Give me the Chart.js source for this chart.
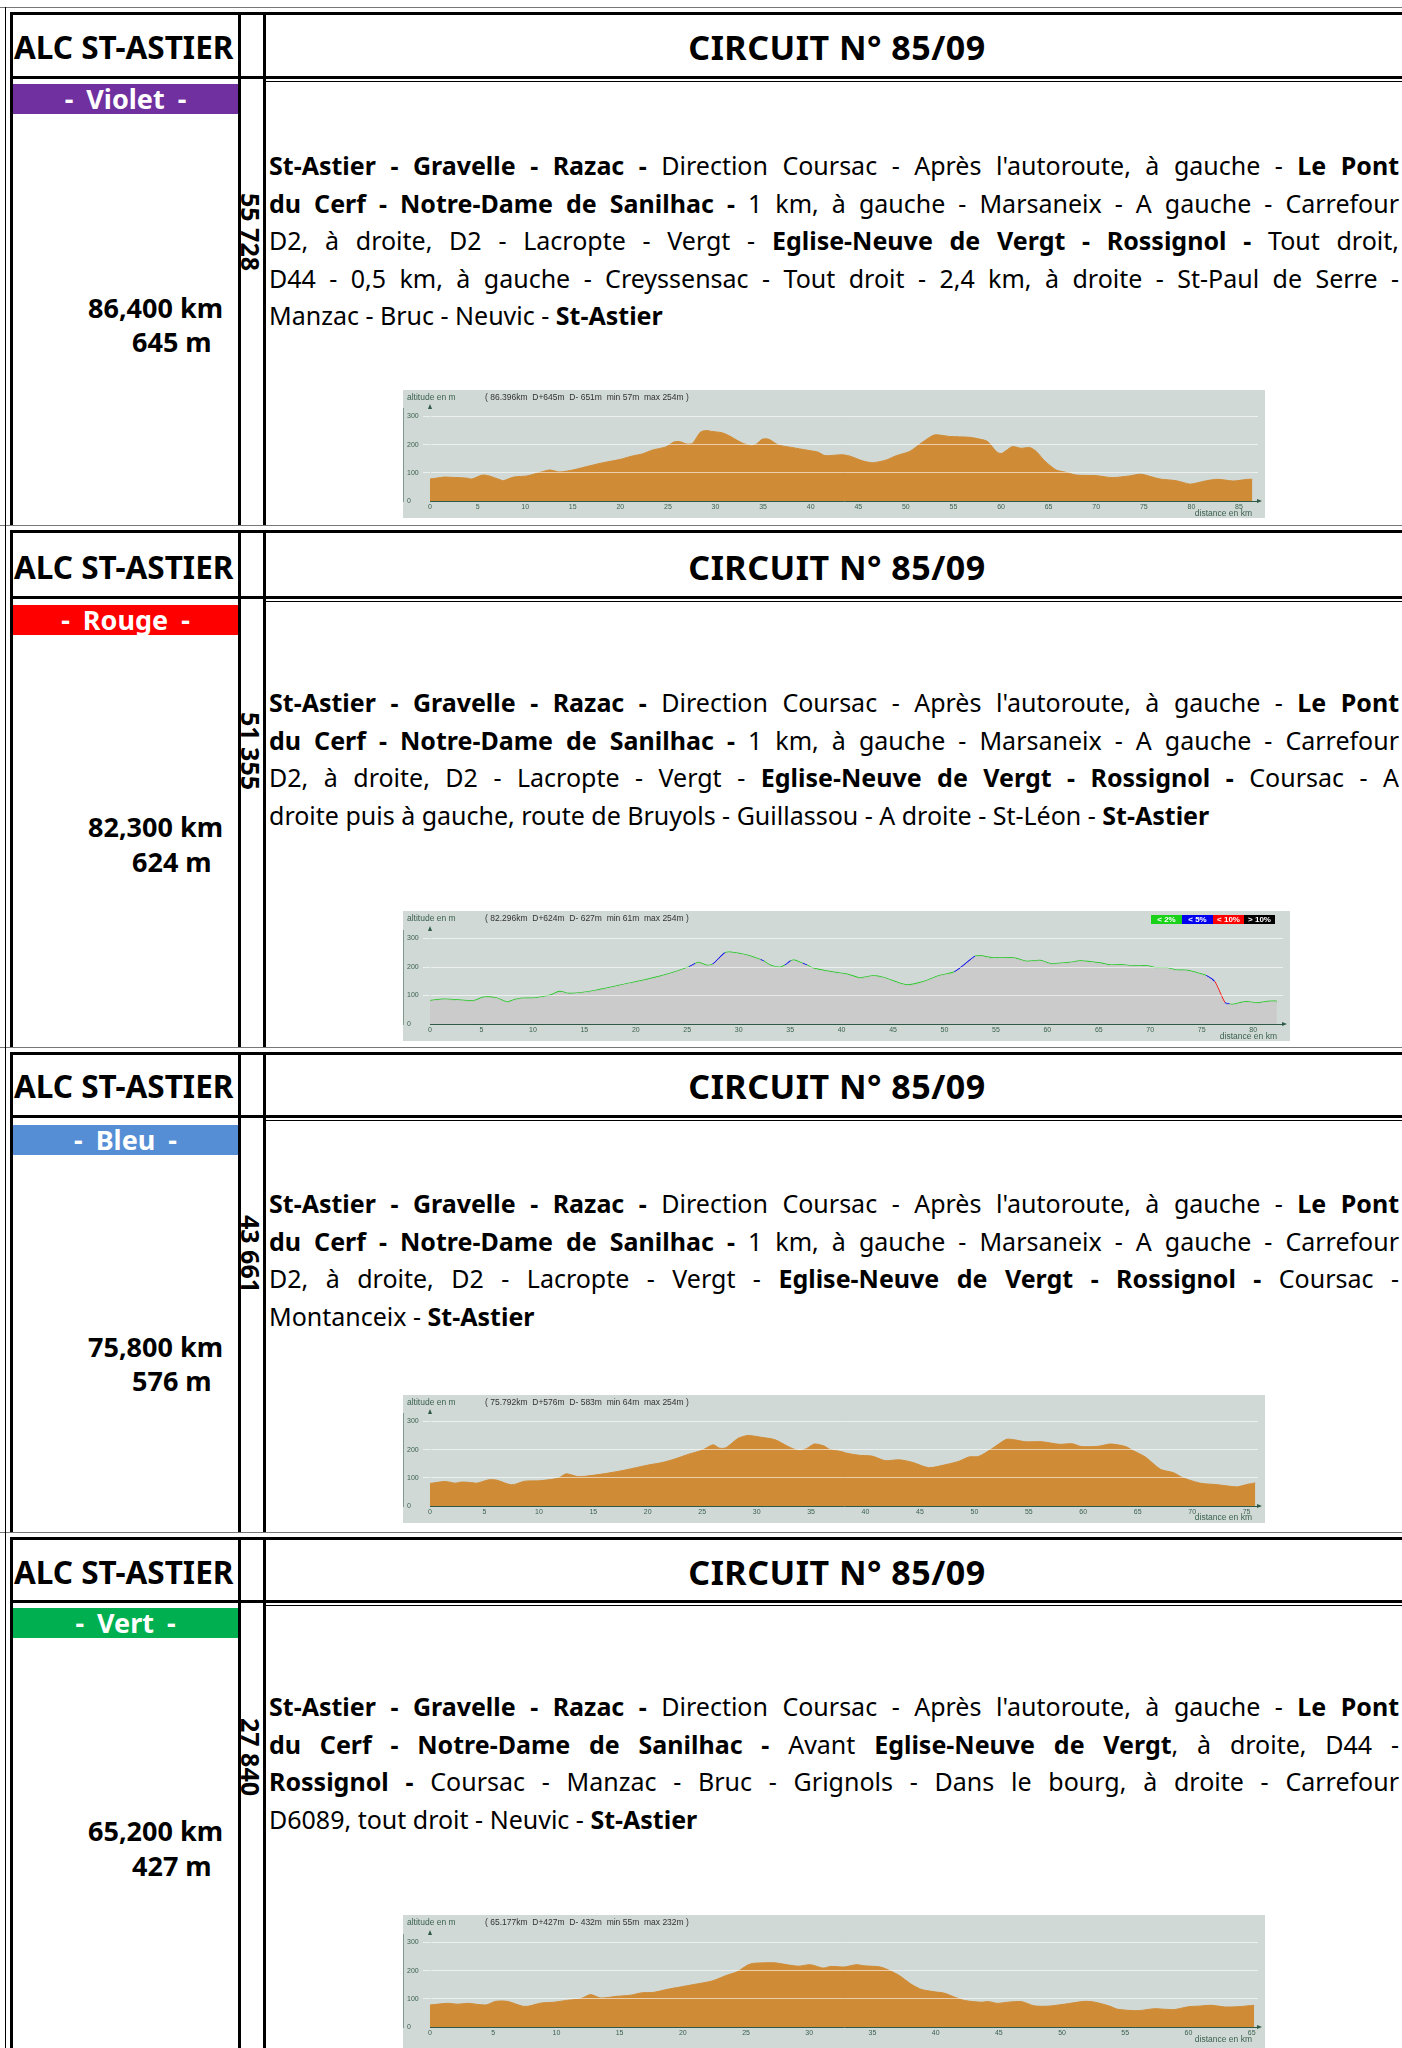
<!DOCTYPE html>
<html lang="fr">
<head>
<meta charset="utf-8">
<script src="https://cdn.jsdelivr.net/npm/chart.js@4.4.1/dist/chart.umd.min.js"></script>
<style>
  html, body { margin: 0; padding: 0; background: #fff; }
  body { width: 1402px; height: 2048px; overflow: hidden; position: relative; font-family: "Noto Sans", sans-serif; color: #000; }
  .ln { position: absolute; background: #000; }
  .hdrL { position: absolute; left: 14px; font-weight: bold; font-size: 31.5px; line-height: 36px; white-space: nowrap; }
  .hdrR { position: absolute; left: 266px; width: 1142px; text-align: center; font-weight: bold; font-size: 34px; line-height: 38px; letter-spacing: 0.5px; white-space: nowrap; }
  .bar { position: absolute; left: 13px; width: 225px; height: 30px; color: #fff; font-weight: bold; font-size: 27px; line-height: 30px; text-align: center; word-spacing: 6px; }
  .ligne { position: absolute; left: 269px; width: 1130px; height: 38px; line-height: 38px; font-size: 25px; overflow: hidden; }
  .ligne.j { text-align: justify; text-align-last: justify; }
  .dist { position: absolute; font-weight: bold; font-size: 27px; line-height: 32px; white-space: nowrap; }
  .code { position: absolute; left: 238px; width: 26px; writing-mode: vertical-rl; font-weight: bold; font-size: 25px; line-height: 26px; white-space: nowrap; }
  canvas { position: absolute; background: #d0d9d5; }
</style>
</head>
<body>
<script>
// données des circuits
const couleurs = ['- Violet -', '- Rouge -', '- Bleu -', '- Vert -'];
const teintes = ['#7030a0', '#ff0000', '#558ed5', '#00b050'];
const distances = ['86,400 km', '82,300 km', '75,800 km', '65,200 km'];
const deniveles = ['645 m', '624 m', '576 m', '427 m'];
const codes = ['55 728', '51 355', '43 661', '27 840'];
const resumes = [
  '( 86.396km  D+645m  D- 651m  min 57m  max 254m )',
  '( 82.296km  D+624m  D- 627m  min 61m  max 254m )',
  '( 75.792km  D+576m  D- 583m  min 64m  max 254m )',
  '( 65.177km  D+427m  D- 432m  min 55m  max 232m )'
];

const L1 = '<b>St-Astier - Gravelle - Razac -</b> Direction Coursac - Après l\'autoroute, à gauche - <b>Le Pont</b>';
const L2 = '<b>du Cerf - Notre-Dame de Sanilhac -</b> 1 km, à gauche - Marsaneix - A gauche - Carrefour';
const itineraires = [
  [L1, L2,
   'D2, à droite, D2 - Lacropte - Vergt - <b>Eglise-Neuve de Vergt - Rossignol -</b> Tout droit,',
   'D44 - 0,5 km, à gauche - Creyssensac - Tout droit - 2,4 km, à droite - St-Paul de Serre -',
   'Manzac - Bruc - Neuvic - <b>St-Astier</b>'],
  [L1, L2,
   'D2, à droite, D2 - Lacropte - Vergt - <b>Eglise-Neuve de Vergt - Rossignol -</b> Coursac - A',
   'droite puis à gauche, route de Bruyols - Guillassou - A droite - St-Léon - <b>St-Astier</b>'],
  [L1, L2,
   'D2, à droite, D2 - Lacropte - Vergt - <b>Eglise-Neuve de Vergt - Rossignol -</b> Coursac -',
   'Montanceix - <b>St-Astier</b>'],
  [L1,
   '<b>du Cerf - Notre-Dame de Sanilhac -</b> Avant <b>Eglise-Neuve de Vergt</b>, à droite, D44 -',
   '<b>Rossignol -</b> Coursac - Manzac - Bruc - Grignols - Dans le bourg, à droite - Carrefour',
   'D6089, tout droit - Neuvic - <b>St-Astier</b>']
];

// profils altimétriques (km, m)
const km1 = [0, 1.1, 1.5, 3.9, 4.4, 5.5, 6.2, 7.4, 7.7, 8.8, 10.2, 11.6, 12.6, 13.6, 15.0, 16.8, 18.2, 19.9, 21.3, 22.3,
  23.4, 24.8, 25.6, 26.2, 27.0, 27.6, 28.4, 29.0, 29.6, 30.7, 31.4, 32.4, 33.1, 33.8, 34.3, 34.9, 35.6, 36.6, 38.0, 39.7,
  40.8, 41.5, 43.2, 44.05, 45.5, 46.5, 47.9, 49.0, 50.4, 51.6, 52.8, 53.2, 54.6, 56.7, 58.1, 58.6, 59.5, 60.0, 60.5, 61.2,
  62.1, 63.0, 63.7, 64.6, 65.8, 66.8, 67.9, 70.0, 71.7, 73.5, 74.7, 76.7, 78.4, 79.8, 80.3, 81.6, 82.8, 84.4, 85.9, 86.4];
const alt1 = [78, 83, 85, 81, 78, 92, 89, 75, 72, 85, 89, 102, 110, 103, 110, 125, 136, 147, 160, 167,
  181, 192, 209, 211, 202, 205, 244, 250, 247, 242, 232, 213, 202, 196, 202, 219, 219, 199, 190, 180,
  173, 161, 164, 160, 142, 136, 145, 161, 176, 205, 232, 235, 229, 226, 217, 211, 176, 168, 178, 193,
  187, 190, 176, 142, 110, 102, 92, 90, 83, 89, 95, 78, 72, 60, 62, 72, 77, 71, 77, 77];

const km2 = [0, 1.4, 3.6, 4.4, 5.2, 6.4, 7.5, 8.2, 8.8, 10.1, 11.7, 12.6, 13.5, 15.3, 17.2, 19.2, 20.8, 22.4, 24.0, 25.2,
  25.8, 26.1, 26.9, 27.5, 28.7, 29.2, 30.8, 32.1, 32.4, 33.1, 34.0, 34.5, 35.1, 35.4, 36.2, 36.6, 37.3, 39.2, 40.5, 41.75,
  43.05, 44.0, 46.3, 47.9, 49.5, 51.0, 53.0, 53.4, 54.7, 56.7, 58.0, 59.3, 60.3, 62.2, 63.2, 65.1, 66.1, 67.1, 68.4, 69.7,
  70.6, 71.6, 72.6, 73.6, 74.9, 75.4, 76.2, 77.2, 77.7, 78.1, 79.3, 80.4, 81.4, 82.3];
const alt2 = [80, 85, 80, 81, 92, 90, 75, 83, 88, 89, 99, 112, 105, 111, 124, 140, 152, 166, 183, 199,
  210, 214, 204, 208, 248, 250, 240, 224, 219, 204, 197, 204, 220, 222, 211, 205, 193, 180, 173, 160,
  167, 162, 135, 146, 168, 181, 236, 238, 230, 230, 218, 221, 210, 214, 219, 212, 205, 206, 202, 202,
  195, 195, 187, 186, 174, 168, 148, 74, 68, 67, 76, 72, 77, 78];
// classe de pente du tronçon qui part de chaque point : v < 2%, b < 5%, r < 10%
const pente2 = ['v', 'v', 'v', 'v', 'v', 'v', 'v', 'v', 'v', 'v', 'v', 'v', 'v', 'v', 'v', 'v', 'v', 'v', 'v', 'b',
  'v', 'v', 'v', 'b', 'v', 'v', 'v', 'b', 'v', 'v', 'v', 'b', 'v', 'v', 'b', 'v', 'v', 'v', 'v', 'v',
  'v', 'v', 'v', 'v', 'v', 'b', 'v', 'v', 'v', 'v', 'v', 'v', 'v', 'v', 'v', 'v', 'v', 'v', 'v', 'v',
  'v', 'v', 'v', 'v', 'v', 'b', 'r', 'b', 'v', 'v', 'v', 'v', 'v', 'v'];

const km3 = [0, 1.4, 2.3, 2.9, 3.8, 4.3, 5.4, 6.1, 7.5, 8.7, 10.2, 11.8, 12.5, 13.6, 14.8, 16.1, 17.6, 18.8, 20.0, 21.3,
  22.5, 23.7, 25.0, 26.0, 26.6, 27.2, 28.3, 29.2, 30.4, 31.7, 32.9, 33.9, 34.6, 35.3, 36.2, 36.7, 37.8, 38.2, 39.4, 40.6,
  41.8, 43.1, 44.3, 45.8, 47.4, 48.6, 49.5, 50.4, 51.6, 52.9, 53.5, 54.7, 56.2, 57.8, 59.0, 59.8, 61.4, 62.5, 63.9, 64.5,
  65.7, 67.1, 68.3, 69.1, 70.0, 70.9, 72.2, 73.7, 74.2, 75.1, 75.8];
const alt3 = [80, 87, 81, 85, 83, 81, 93, 92, 75, 88, 90, 99, 114, 104, 108, 115, 125, 135, 145, 154,
  167, 183, 198, 217, 205, 207, 240, 250, 244, 235, 211, 196, 204, 220, 213, 201, 193, 188, 180, 177,
  161, 164, 155, 136, 147, 159, 174, 176, 203, 236, 236, 228, 228, 219, 221, 211, 212, 220, 211, 198,
  174, 130, 118, 101, 89, 80, 76, 69, 68, 77, 82];

const km4 = [0, 1.4, 2.2, 3.0, 4.0, 4.5, 5.2, 6.1, 7.3, 7.8, 8.8, 9.8, 10.9, 11.9, 12.7, 13.5, 14.8, 15.9, 16.7, 17.7,
  18.8, 19.8, 20.9, 22.0, 22.5, 23.5, 24.3, 25.1, 25.6, 27.2, 27.7, 28.8, 29.2, 30.1, 31.1, 31.7, 32.8, 33.7, 34.4, 35.7,
  37.0, 38.1, 38.9, 39.9, 40.7, 41.5, 42.3, 43.6, 44.2, 44.9, 45.7, 46.8, 47.8, 48.9, 50.2, 51.8, 52.6, 53.7, 54.4, 56.0,
  57.3, 58.1, 58.9, 60.0, 60.8, 61.8, 62.9, 63.9, 65.2];
const alt4 = [78, 84, 81, 84, 79, 79, 91, 91, 74, 74, 85, 88, 95, 100, 115, 103, 109, 113, 121, 123,
  134, 142, 151, 160, 166, 184, 196, 219, 226, 228, 225, 217, 216, 221, 209, 215, 213, 221, 217, 212,
  186, 151, 133, 125, 120, 106, 94, 88, 90, 84, 88, 90, 75, 74, 81, 91, 88, 75, 63, 58,
  65, 63, 62, 72, 74, 77, 71, 72, 77];

const ticksAlt = [0, 100, 200, 300];
const ticksKm1 = [0, 5, 10, 15, 20, 25, 30, 35, 40, 45, 50, 55, 60, 65, 70, 75, 80, 85];
const ticksKm2 = [0, 5, 10, 15, 20, 25, 30, 35, 40, 45, 50, 55, 60, 65, 70, 75, 80];
const ticksKm3 = [0, 5, 10, 15, 20, 25, 30, 35, 40, 45, 50, 55, 60, 65, 70, 75];
const ticksKm4 = [0, 5, 10, 15, 20, 25, 30, 35, 40, 45, 50, 55, 60, 65];

const ORANGE = '#cf8b36';
const AXE = '#2f5a47';
const couleursPente = { v: '#1ec81e', b: '#0000f0', r: '#ff0000' };

// mise en page de chaque bloc
const blocs = [
  { top: 7, hdr: 47, hdrLine: 76, bar: 84, txt: 165, km: 308, m: 342, code: 193, cv: [390, 862, 128] },
  { top: 525, hdr: 567, hdrLine: 596, bar: 605, txt: 702, km: 827, m: 862, code: 712, cv: [911, 887, 130] },
  { top: 1047, hdr: 1086, hdrLine: 1115, bar: 1125, txt: 1203, km: 1347, m: 1381, code: 1215, cv: [1395, 862, 128] },
  { top: 1532, hdr: 1572, hdrLine: 1600, bar: 1608, txt: 1706, km: 1831, m: 1866, code: 1718, cv: [1915, 862, 133] }
];
const bas = [525, 1047, 1532, 2060];

function add(cls, css, html) {
  const d = document.createElement('div');
  d.className = cls;
  Object.assign(d.style, css);
  if (html !== undefined) d.innerHTML = html;
  document.body.appendChild(d);
  return d;
}
function trait(x, y, w, h, c) {
  add('ln', { left: x + 'px', top: y + 'px', width: w + 'px', height: h + 'px', background: c || '#000' });
}

blocs.forEach((b, i) => {
  const fin = bas[i];
  // cadres
  trait(0, b.top, 1402, 1, '#777');
  trait(10, b.top + 5, 1392, 3);
  trait(5, b.top, 1, fin - b.top);
  trait(10, b.top + 5, 3, fin - b.top - 5);
  trait(238, b.top + 5, 3, fin - b.top - 5);
  trait(263, b.top + 5, 3, fin - b.top - 5);
  trait(10, b.hdrLine, 1392, 3);
  trait(266, b.hdrLine + 5, 1136, 1);
  // en-tête
  add('hdrL', { top: (b.hdr - 18) + 'px' }, 'ALC ST-ASTIER');
  add('hdrR', { top: (b.hdr - 19) + 'px' }, 'CIRCUIT N° 85/09');
  add('bar', { top: b.bar + 'px', background: teintes[i] }, couleurs[i]);
  // itinéraire
  itineraires[i].forEach((t, k, arr) => {
    add('ligne' + (k < arr.length - 1 ? ' j' : ''), { top: (b.txt - 19 + k * 37.5) + 'px' }, t);
  });
  add('dist', { left: '88px', top: (b.km - 16) + 'px' }, distances[i]);
  add('dist', { left: '132px', top: (b.m - 16) + 'px' }, deniveles[i]);
  add('code', { top: b.code + 'px' }, codes[i]);
  // canvas du profil
  const c = document.createElement('canvas');
  c.id = 'profil' + (i + 1);
  c.width = b.cv[1];
  c.height = b.cv[2];
  c.style.left = '403px';
  c.style.top = b.cv[0] + 'px';
  document.body.appendChild(c);
});

// réduire la police si une ligne déborde
let fs = 25;
const lignes = [...document.querySelectorAll('.ligne')];
while (fs > 16 && lignes.some(d => d.scrollHeight > 40)) {
  fs -= 0.5;
  lignes.forEach(d => { d.style.fontSize = fs + 'px'; });
}

const habillage = {
  id: 'habillage',
  afterDraw(chart, args, opt) {
    const { ctx, chartArea: a, height } = chart;
    ctx.save();
    ctx.fillStyle = AXE;
    ctx.beginPath();
    ctx.moveTo(a.left, a.top - 4); ctx.lineTo(a.left - 2, a.top + 1); ctx.lineTo(a.left + 2, a.top + 1);
    ctx.fill();
    ctx.beginPath();
    ctx.moveTo(a.right + 4, a.bottom); ctx.lineTo(a.right - 1, a.bottom - 2); ctx.lineTo(a.right - 1, a.bottom + 2);
    ctx.fill();
    ctx.font = '8.5px "Liberation Sans", Arial, sans-serif';
    ctx.textBaseline = 'middle';
    ctx.textAlign = 'left';
    ctx.fillStyle = '#3b6150';
    ctx.fillText('altitude en m', 4, 8);
    ctx.fillStyle = '#333';
    ctx.fillText(opt.resume, 82, 8);
    ctx.textAlign = 'right';
    ctx.fillStyle = '#3b6150';
    ctx.fillText('distance en km', a.right - 6, height - opt.bas);
    if (opt.legende) {
      const cases = [['< 2%', '#19d219'], ['< 5%', '#0000ee'], ['< 10%', '#ff0000'], ['> 10%', '#000']];
      ctx.font = 'bold 8px "Liberation Sans", Arial, sans-serif';
      ctx.textAlign = 'center';
      cases.forEach((cs, k) => {
        const x = 748 + k * 31;
        ctx.fillStyle = cs[1];
        ctx.fillRect(x, 4, 31, 9);
        ctx.fillStyle = '#fff';
        ctx.fillText(cs[0], x + 15.5, 8.5);
      });
    }
    ctx.restore();
  }
};

Chart.defaults.font.family = '"Liberation Sans", Arial, sans-serif';

function profil(id, km, alt, o) {
  const pts = km.map((x, i) => ({ x: x, y: alt[i] }));
  const sets = [{
    data: pts, fill: 'origin', backgroundColor: o.fond, borderColor: o.fond,
    borderWidth: 1, pointRadius: 0, tension: 0.25
  }];
  if (o.segment) {
    // tracé coloré selon la pente, au-dessus du remplissage
    sets.push({
      data: pts, fill: false, borderColor: couleursPente.v, borderWidth: 2.5,
      pointRadius: 0, tension: 0.25, segment: o.segment
    });
  }
  return new Chart(document.getElementById(id), {
    type: 'line',
    data: { datasets: sets },
    options: {
      responsive: false,
      animation: false,
      layout: { padding: { left: 4, top: o.haut, right: 7, bottom: 0 } },
      plugins: {
        legend: { display: false },
        tooltip: { enabled: false },
        habillage: { resume: o.resume, legende: o.legende, bas: o.bas }
      },
      scales: {
        x: {
          type: 'linear', min: 0, max: o.xmax, z: 2,
          afterBuildTicks: s => { s.ticks = o.ticks.map(v => ({ value: v })); },
          afterFit: s => { s.height = o.axeX; },
          grid: { display: false, drawTicks: false, tickLength: 0 },
          border: { display: true, color: AXE, width: 1 },
          ticks: { color: '#3b6150', font: { size: 7 }, padding: 2, maxRotation: 0, autoSkip: false }
        },
        y: {
          min: 0, max: 330,
          afterBuildTicks: s => { s.ticks = ticksAlt.map(v => ({ value: v })); },
          afterFit: s => { s.width = 23; },
          grid: {
            z: 1, lineWidth: 1, tickLength: 7,
            color: c => (c.tick && c.tick.value === 0 ? 'rgba(0,0,0,0)' : 'rgba(255,255,255,0.6)')
          },
          border: { display: true, color: AXE, width: 1 },
          ticks: { color: '#3b6150', font: { size: 7 }, crossAlign: 'far', padding: 2 }
        }
      }
    },
    plugins: [habillage]
  });
}

profil('profil1', km1, alt1, { fond: ORANGE, resume: resumes[0], xmax: 87.0, ticks: ticksKm1, haut: 18, axeX: 17, bas: 4 });
profil('profil2', km2, alt2, {
  fond: '#cbcbcb', resume: resumes[1], xmax: 82.9, ticks: ticksKm2,
  haut: 19, axeX: 17, bas: 4, legende: true,
  segment: { borderColor: c => couleursPente[pente2[c.p0DataIndex]] }
});
profil('profil3', km3, alt3, { fond: ORANGE, resume: resumes[2], xmax: 76.05, ticks: ticksKm3, haut: 18, axeX: 17, bas: 5 });
profil('profil4', km4, alt4, { fond: ORANGE, resume: resumes[3], xmax: 65.5, ticks: ticksKm4, haut: 19, axeX: 21, bas: 8 });
</script>
</body>
</html>
